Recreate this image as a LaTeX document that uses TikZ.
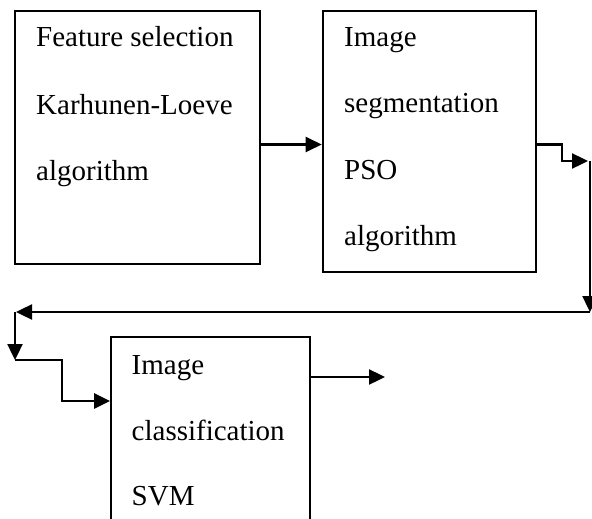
\documentclass[tikz,border=0pt]{standalone}
\usepackage{fontspec}
\setmainfont{Liberation Serif}
\usetikzlibrary{arrows.meta}
\tikzset{
  box/.style={draw=black, line width=1.8pt, rectangle, inner sep=0pt},
  txt/.style={anchor=base west, inner sep=0pt, font=\fontsize{29}{35}\selectfont},
  arr/.style={line width=2.4pt, -{Triangle[length=16pt,width=15pt]}},
  ln/.style={line width=2.4pt}
}
\begin{document}
\begin{tikzpicture}[x=1pt,y=-1pt]
\useasboundingbox (0,0) rectangle (592,519);
\clip (0,0) rectangle (592,519);
% boxes
\node[box, minimum width=245pt, minimum height=253pt] (b1) at (137.5,137.5) {};
\node[box, minimum width=213pt, minimum height=261pt] (b2) at (429.1,141.5) {};
\node[box, minimum width=199pt, minimum height=243pt] (b3) at (210.5,458.5) {};
% texts
\node[txt] (t11) at (36,47) {Feature selection};
\node[txt] (t12) at (36,114) {Karhunen-Loeve};
\node[txt] (t13) at (36,180) {algorithm};
\node[txt] (t21) at (344,47) {Image};
\node[txt] (t22) at (344,113) {segmentation};
\node[txt] (t23) at (344,179) {PSO};
\node[txt] (t24) at (344,245) {algorithm};
\node[txt] (t31) at (131.5,374) {Image};
\node[txt] (t32) at (131.5,440) {classification};
\node[txt] (t33) at (131.5,505) {SVM};
% helper coordinates
\coordinate (ya) at (0,144.5);
\coordinate (s1) at (562,144.5);
\coordinate (s2) at (562,161);
\coordinate (s3) at (588,161);
\coordinate (v1) at (590,161);
\coordinate (v2) at (590,312);
\coordinate (h1) at (590,312);
\coordinate (h2) at (16,312);
\coordinate (d1) at (15,312);
\coordinate (d2) at (15,360);
\coordinate (e1) at (62,360);
\coordinate (e2) at (62,401);
\coordinate (yb) at (0,401);
\coordinate (yc) at (0,377);
\coordinate (out) at (385,377);
% connectors
\draw[arr] (b1.east |- ya) -- (b2.west |- ya);
\draw[arr] (b2.east |- ya) -- (s1) -- (s2) -- (s3);
\draw[arr] (v1) -- (v2);
\draw[arr] (h1) -- (h2);
\draw[arr] (d1) -- (d2);
\draw[arr] (d2) -- (e1) -- (e2) -- (b3.west |- yb);
\draw[arr] (b3.east |- yc) -- (out);
\end{tikzpicture}
\end{document}
